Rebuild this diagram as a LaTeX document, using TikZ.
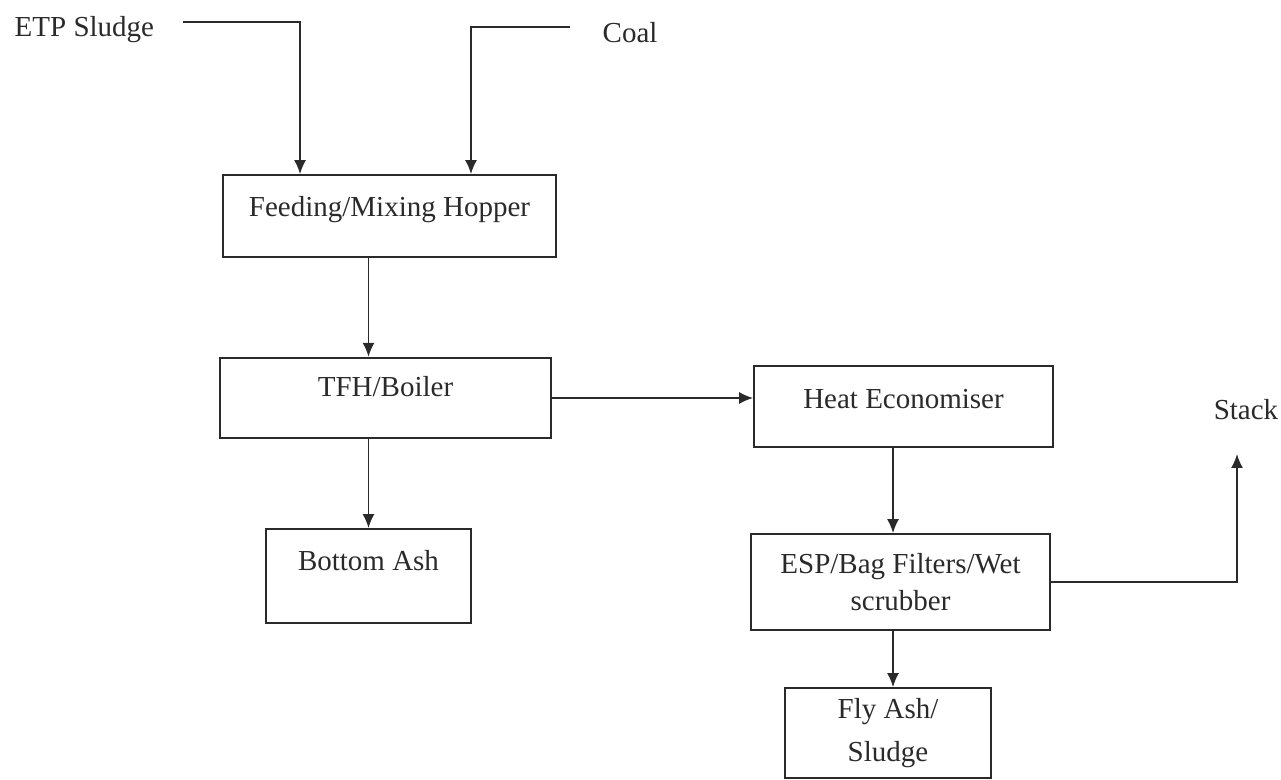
\documentclass[tikz,border=0pt]{standalone}
\usepackage{fontspec}
\setmainfont{Liberation Serif}
\usepackage{tikz}
\usetikzlibrary{arrows.meta}
\usetikzlibrary{positioning}
\definecolor{ink}{HTML}{2A2A2A}

\begin{document}
\begin{tikzpicture}[x=0.02cm, y=-0.02cm, line width=1pt, color=ink,
		font=\fontsize{16.5}{21}\selectfont,
		box/.style={draw, rectangle, inner sep=0pt, align=center},
		toptext/.style={text height=0.4cm, text depth=#1},
		>={Latex[length=0.28cm,width=0.24cm]}]
	\useasboundingbox (0,0) rectangle (1281,780);
	\clip (0,0) rectangle (1281,780);
	% feeds
	\node[anchor=west] (Sludge) at (8,30) {ETP Sludge};
	\node[anchor=west] (Coal) at (596,33) {Coal};
	\coordinate (SludgeIn) at (183,22);
	\coordinate (CoalIn) at (570,27);
	% process boxes
	\node[box, toptext=0.36cm, minimum width=6.66cm, minimum height=1.64cm] (Hopper) at (389.5,216) {Feeding/Mixing Hopper};
	\node[box, toptext=0.44cm, minimum width=6.62cm, minimum height=1.61cm] (Tfh) at (385.5,398) {TFH/Boiler};
	\node[box, toptext=0.34cm, minimum width=5.98cm, minimum height=1.62cm] (Heat) at (903.5,406.5) {Heat Economiser};
	\node[box, toptext=0.64cm, minimum width=4.1cm, minimum height=1.88cm] (Bottom) at (368.5,576) {Bottom Ash};
	\node[box, minimum width=5.98cm, minimum height=1.92cm] (Esp) at (900.5,582) {ESP/Bag Filters/Wet\\scrubber};
	\node[box, minimum width=4.12cm, minimum height=1.8cm] (Fly) at (888,733) {Fly Ash/\\[3pt]Sludge};
	\node (Stack) at (1246,410) {Stack};
	\coordinate (StackIn) at (1237,454);
	\coordinate (Drop) at (893,0);
	% flows
	\draw[->] (SludgeIn) -| ([xshift=-1.79cm]Hopper.north);
	\draw[->] (CoalIn) -| ([xshift=1.63cm]Hopper.north);
	\draw[->] (Hopper.south -| Bottom.north) -- (Tfh.north -| Bottom.north);
	\draw[->] (Tfh.east) -- (Tfh.east -| Heat.west);
	\draw[->] (Tfh.south -| Bottom.north) -- (Bottom.north);
	\draw[->] (Heat.south -| Drop) -- (Esp.north -| Drop);
	\draw[->] (Esp.south -| Drop) -- (Fly.north -| Drop);
	\draw[->] (Esp.east) -| (StackIn);
\end{tikzpicture}
\end{document}
